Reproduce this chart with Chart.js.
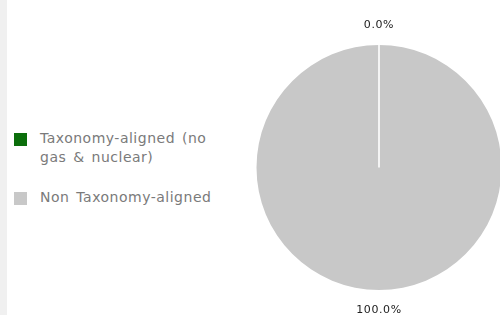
<!DOCTYPE html>
<html>
<head>
<meta charset="utf-8">
<script src="https://cdn.jsdelivr.net/npm/chart.js@4"></script>
<style>
  body { margin:0; width:500px; height:315px; background:#fff; position:relative; overflow:hidden; font-family:"DejaVu Sans", sans-serif; }
  .strip { position:absolute; left:0; top:0; width:7px; height:315px; background:#f0f0f0; }
  .legend { position:absolute; left:14px; top:129px; width:215px; color:#7a7a7a; font-size:14px; letter-spacing:0.5px; word-spacing:2px; line-height:19px; }
  .item { position:relative; padding-left:26px; margin-bottom:21px; }
  .item .sw { position:absolute; left:0; top:4px; width:13px; height:13px; }
  #wrap { position:absolute; left:249px; top:0; width:260px; height:315px; }
</style>
</head>
<body>
<div class="strip"></div>
<div class="legend" id="legend"></div>
<div id="wrap"><canvas id="pie"></canvas></div>
<script>
const categories = ["Taxonomy-aligned (no gas & nuclear)", "Non Taxonomy-aligned"];
const legendLabels = ["Taxonomy-aligned (no<br>gas & nuclear)", "Non Taxonomy-aligned"];
const values = [0.0, 100.0];
const colors = ["#0b6e0b", "#c8c8c8"];

const legend = document.getElementById("legend");
categories.forEach((c, i) => {
    const div = document.createElement("div");
    div.className = "item";
    div.innerHTML = `<span class="sw" style="background:${colors[i]}"></span>${legendLabels[i]}`;
    legend.appendChild(div);
});

// percent labels outside the pie + white separator line at slice start
const outsideLabels = {
    id: "outsideLabels",
    afterDatasetsDraw(chart) {
        const ctx = chart.ctx;
        const meta = chart.getDatasetMeta(0);
        const total = values.reduce((a, b) => a + b, 0);
        ctx.save();
        meta.data.forEach((arc, i) => {
            const p = arc.getProps(["x", "y", "startAngle", "endAngle", "outerRadius"], true);
            if (values[i] === 0) {
                ctx.strokeStyle = "#f4f4f4";
                ctx.lineWidth = 2;
                ctx.beginPath();
                ctx.moveTo(p.x, p.y);
                ctx.lineTo(p.x + Math.cos(p.startAngle) * p.outerRadius, p.y + Math.sin(p.startAngle) * p.outerRadius);
                ctx.stroke();
            }
            const mid = (p.startAngle + p.endAngle) / 2;
            const r = p.outerRadius + 20;
            ctx.fillStyle = "#222";
            ctx.font = "11px 'DejaVu Sans', sans-serif";
            ctx.letterSpacing = "0.6px";
            ctx.textAlign = "center";
            ctx.textBaseline = "middle";
            ctx.fillText((values[i] / total * 100).toFixed(1) + "%", p.x + Math.cos(mid) * r, p.y + Math.sin(mid) * r);
        });
        ctx.restore();
    }
};

new Chart(document.getElementById("pie").getContext("2d"), {
    type: "pie",
    data: { labels: categories, datasets: [{ data: values, backgroundColor: colors, borderWidth: 0 }] },
    options: {
        responsive: true,
        maintainAspectRatio: false,
        animation: false,
        layout: { padding: { top: 45, bottom: 25, left: 0, right: 0 } },
        plugins: { legend: { display: false }, tooltip: { enabled: false } }
    },
    plugins: [outsideLabels]
});
</script>
</body>
</html>
